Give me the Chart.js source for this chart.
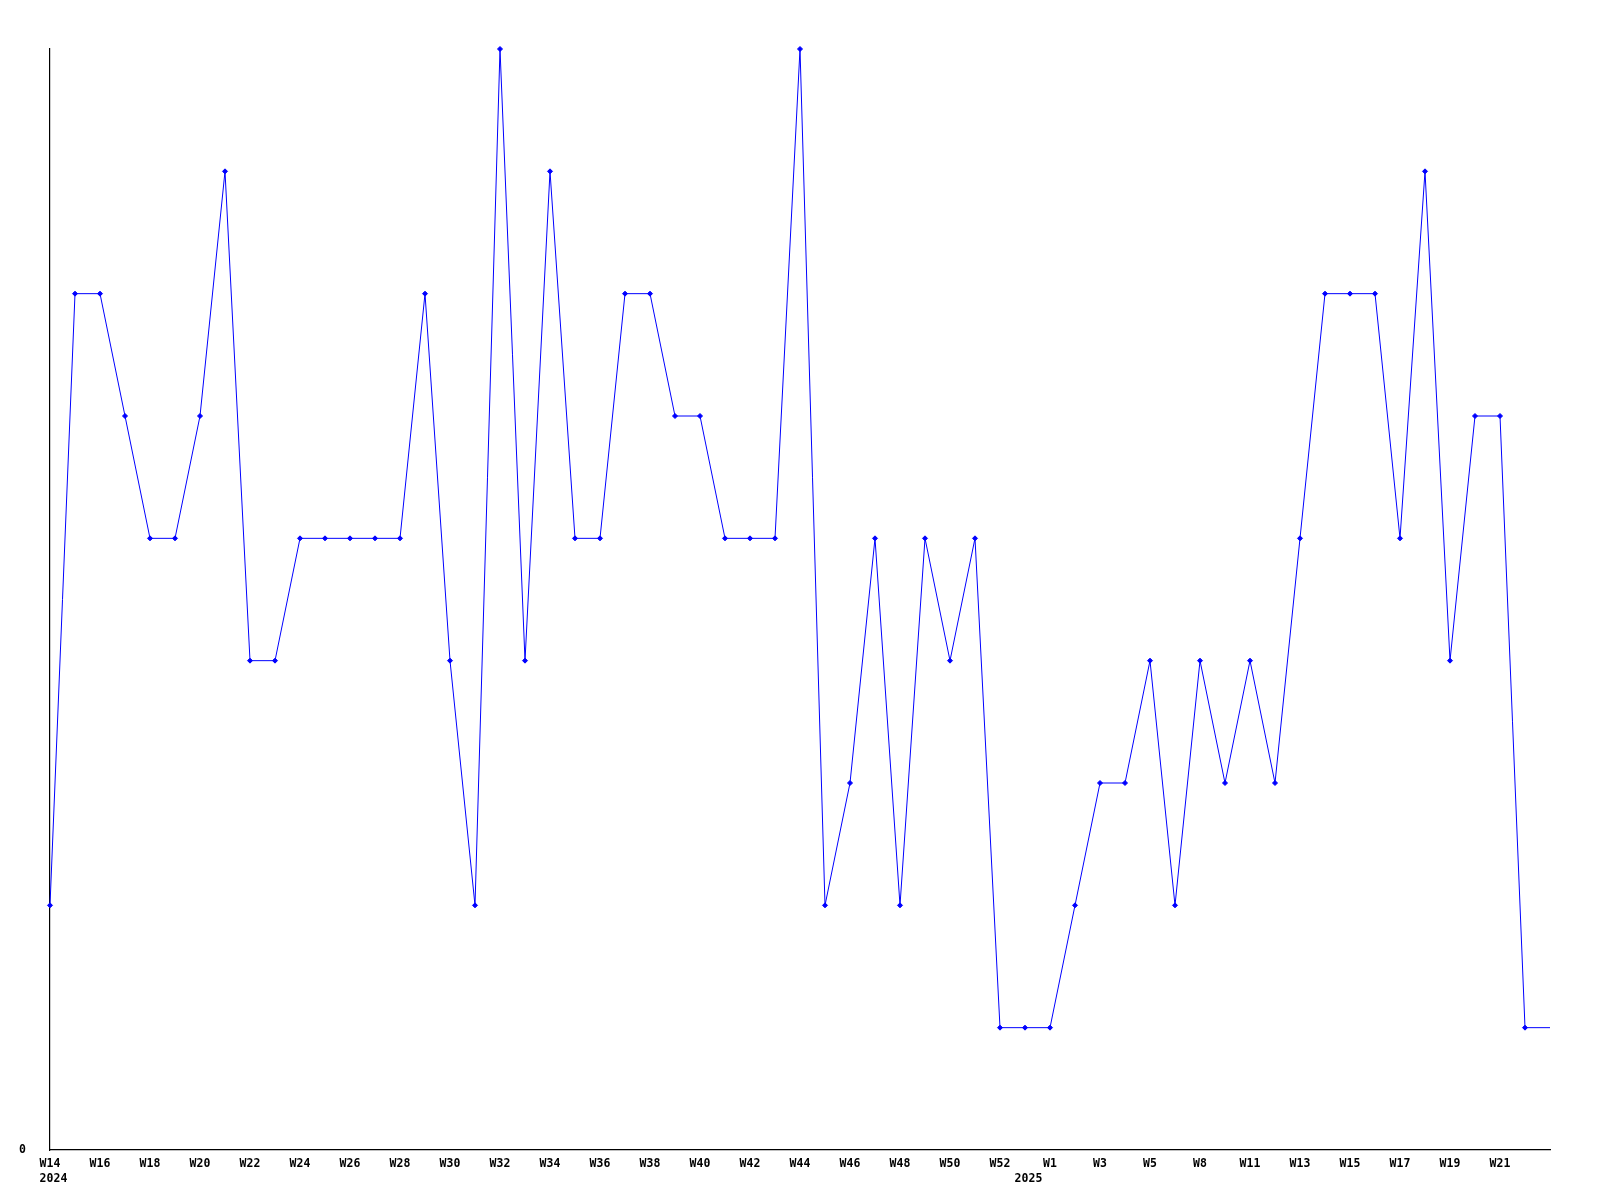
<!DOCTYPE html>
<html>
<head>
<meta charset="utf-8">
<script src="https://cdn.jsdelivr.net/npm/chart.js@4/dist/chart.umd.min.js"></script>
<style>
  html, body { margin: 0; padding: 0; background: #fff; }
  #wrap { width: 1600px; height: 1200px; position: relative; }
</style>
</head>
<body>
<div id="wrap"><canvas id="c" width="1600" height="1200"></canvas></div>
<script>
// Week tick labels (shown every other point; '' = unlabeled)
const weekLabels = [
  'W14','', 'W16','', 'W18','', 'W20','', 'W22','', 'W24','', 'W26','', 'W28','',
  'W30','', 'W32','', 'W34','', 'W36','', 'W38','', 'W40','', 'W42','', 'W44','',
  'W46','', 'W48','', 'W50','', 'W52','', 'W1','', 'W3','', 'W5','', 'W8','',
  'W11','', 'W13','', 'W15','', 'W17','', 'W19','', 'W21','', ''
];
// Year labels (second line)
const yearLabels = [];
yearLabels[0] = '2024';
yearLabels[39] = '2025';

// Series values
const values = [
  2, 7, 7, 6, 5, 5, 6, 8, 4, 4,
  5, 5, 5, 5, 5, 7, 4, 2, 9, 4,
  8, 5, 5, 7, 7, 6, 6, 5, 5, 5,
  9, 2, 3, 5, 2, 5, 4, 5, 1, 1,
  1, 2, 3, 3, 4, 2, 4, 3, 4, 3,
  5, 7, 7, 7, 5, 8, 4, 6, 6, 1,
  1
];

const categories = weekLabels.map((w, i) => yearLabels[i] ? [w, ' ' + yearLabels[i]] : w);

const ctx = document.getElementById('c').getContext('2d');
new Chart(ctx, {
  type: 'line',
  data: {
    labels: categories,
    datasets: [{
      data: values,
      borderColor: '#0000ff',
      backgroundColor: '#0000ff',
      borderWidth: 1,
      pointStyle: 'rectRot',
      pointRadius: (c) => c.dataIndex === values.length - 1 ? 0 : 2.5,
      pointBorderWidth: 1,
      pointBorderColor: '#0000ff',
      pointBackgroundColor: '#0000ff',
      tension: 0,
      fill: false,
      clip: 4
    }]
  },
  options: {
    responsive: false,
    animation: false,
    devicePixelRatio: 1,
    layout: { padding: { top: 49, right: 50, left: 0, bottom: 0 } },
    plugins: { legend: { display: false }, tooltip: { enabled: false } },
    scales: {
      x: {
        type: 'category',
        offset: false,
        grid: { display: false, drawTicks: false },
        border: { display: true, color: '#000', width: 1.2 },
        ticks: {
          autoSkip: false,
          maxRotation: 0,
          minRotation: 0,
          padding: 7,
          color: '#000',
          font: { family: 'DejaVu Sans Mono', size: 11.5, weight: 'bold', lineHeight: 1.3 }
        },
        afterFit: (s) => { s.height = 50; }
      },
      y: {
        min: 0,
        max: 9,
        grid: { display: false, drawTicks: false },
        border: { display: true, color: '#000', width: 1.2 },
        afterBuildTicks: (s) => { s.ticks = [{ value: 0 }]; },
        ticks: {
          padding: 24,
          color: '#000',
          callback: (v) => String(v),
          font: { family: 'DejaVu Sans Mono', size: 11.5, weight: 'bold' }
        },
        afterFit: (s) => { s.width = 50; }
      }
    }
  }
});
</script>
</body>
</html>
